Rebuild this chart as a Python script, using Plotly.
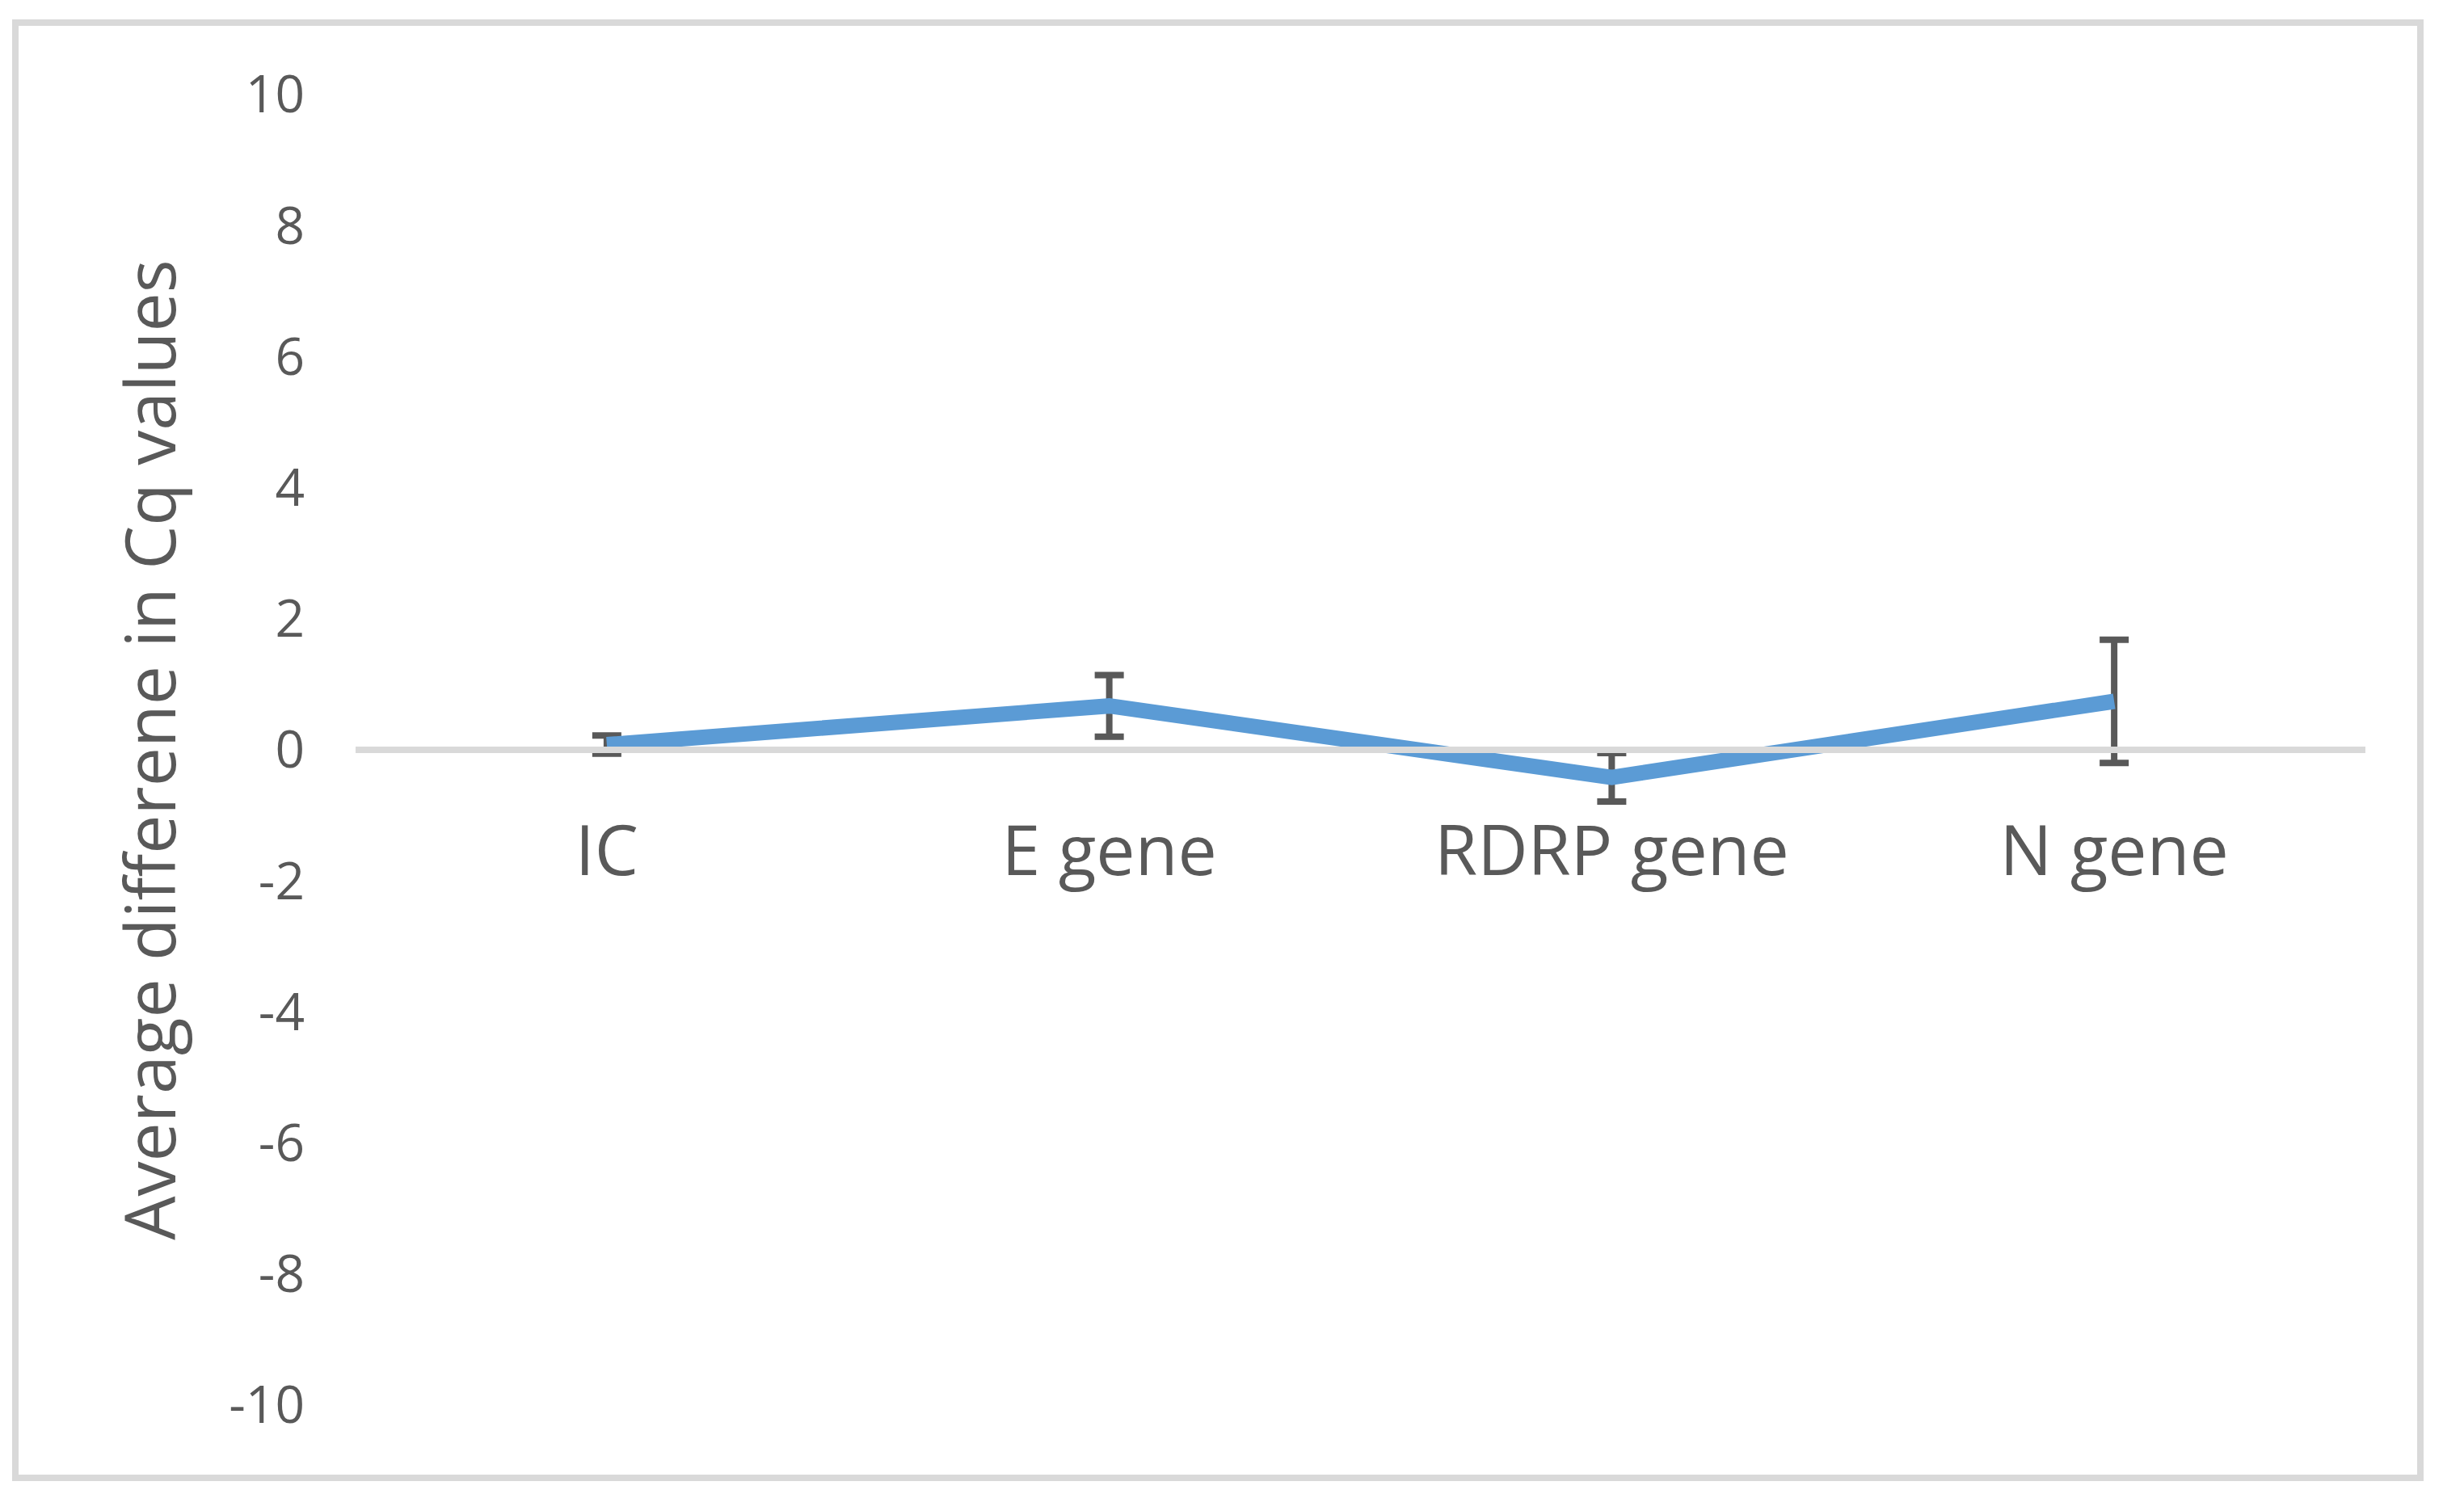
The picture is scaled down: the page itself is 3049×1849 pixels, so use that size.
import plotly.graph_objects as go

# values
genes = ["IC", "E gene", "RDRP gene", "N gene"]
avg_diff = [0.08, 0.67, -0.42, 0.74]
err = [0.14, 0.47, 0.37, 0.94]
yticks = [10, 8, 6, 4, 2, 0, -2, -4, -6, -8, -10]

# the page body has an 8px margin, so the figure is 16px smaller than the window
OFF = 8
W, H = 3049 - 2 * OFF, 1849 - 2 * OFF
L, T = 440 - OFF, 117 - OFF
R, B = W - (2927 - OFF), H - (1739 - OFF)
pw, ph = W - L - R, H - T - B

txt = "#595959"

fig = go.Figure()
fig.add_trace(go.Scatter(
    x=list(range(len(genes))), y=avg_diff, mode="lines",
    line=dict(color="#5B9BD5", width=19),
    error_y=dict(type="data", array=err, visible=True,
                 color="#595959", thickness=8, width=18),
    showlegend=False))

# outer chart border (window px -> paper fraction)
def fx(px): return (px - OFF - L) / pw
def fy(py): return (H - B - (py - OFF)) / ph

fig.add_shape(type="rect", xref="paper", yref="paper",
              x0=fx(19), x1=fx(2995), y0=fy(1829), y1=fy(28),
              line=dict(color="#D9D9D9", width=8), layer="below")

fig.update_layout(
    width=W, height=H,
    margin=dict(l=L, r=R, t=T, b=B),
    plot_bgcolor="white", paper_bgcolor="white",
    font=dict(family="Open Sans", color=txt),
    xaxis=dict(range=[-0.5, 3.5], tickvals=list(range(len(genes))),
               ticktext=genes, showgrid=False, zeroline=False,
               showline=True, linecolor="#D9D9D9", linewidth=8,
               anchor="free", position=0.5, ticks="",
               ticklabelstandoff=48,
               tickfont=dict(size=86, color=txt)),
    yaxis=dict(range=[-10, 10], tickvals=yticks,
               ticktext=[str(v) if v >= 0 else "-" + str(-v) for v in yticks],
               showgrid=False, zeroline=False, showline=False, ticks="",
               ticklabelstandoff=62,
               tickfont=dict(size=64, color=txt),
               title=dict(text="Average differene in Cq values",
                          font=dict(size=86, color=txt), standoff=37)),
)

fig.write_html("out.html")
